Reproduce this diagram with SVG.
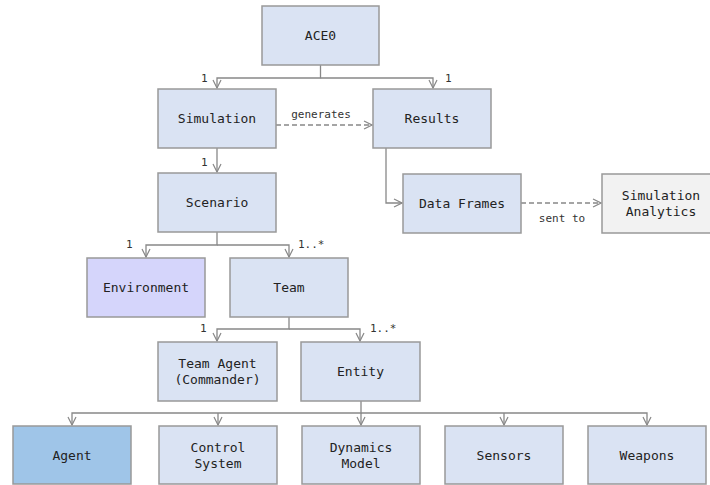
<svg xmlns="http://www.w3.org/2000/svg" width="710" height="485" viewBox="0 0 710 485">
<defs>
<marker id="arr" viewBox="0 0 10 10" refX="9" refY="5" markerWidth="10" markerHeight="10" markerUnits="userSpaceOnUse" orient="auto">
<path d="M1,1 L9,5 L1,9" fill="none" stroke="#888" stroke-width="1.2"/>
</marker>
<style>
.box{fill:#dae3f3;stroke:#999;stroke-width:1.5}
.env{fill:#d5d5fb}
.agt{fill:#9fc5e8}
.ana{fill:#f2f2f2}
.t{font-family:"DejaVu Sans Mono","Liberation Mono",monospace;font-size:13px;fill:#222;text-anchor:middle;dominant-baseline:central}
.l{font-family:"DejaVu Sans Mono","Liberation Mono",monospace;font-size:11px;fill:#333}
.c{fill:none;stroke:#888;stroke-width:1.3}
.d{stroke-dasharray:5,3}
</style>
</defs>
<rect width="710" height="485" fill="#fff"/>
<g id="connectors">
<path class="c" d="M320.5,65 V78 H217 V88" marker-end="url(#arr)"/>
<path class="c" d="M320.5,78 H433 V88" marker-end="url(#arr)"/>
<text class="l" x="201" y="82">1</text>
<text class="l" x="445" y="82">1</text>
<path class="c d" d="M276,125 H372" marker-end="url(#arr)"/>
<text class="l" x="321" y="118" text-anchor="middle">generates</text>
<path class="c" d="M217,148 V172" marker-end="url(#arr)"/>
<text class="l" x="201" y="166">1</text>
<path class="c" d="M386,148 V203 H402" marker-end="url(#arr)"/>
<path class="c d" d="M521,203 H601" marker-end="url(#arr)"/>
<text class="l" x="562" y="222" text-anchor="middle">sent to</text>
<path class="c" d="M217,232 V245 H146 V257" marker-end="url(#arr)"/>
<path class="c" d="M217,245 H289 V257" marker-end="url(#arr)"/>
<text class="l" x="126" y="248">1</text>
<text class="l" x="298" y="248">1..*</text>
<path class="c" d="M289,317 V329 H217 V341" marker-end="url(#arr)"/>
<path class="c" d="M289,329 H360 V341" marker-end="url(#arr)"/>
<text class="l" x="200" y="332">1</text>
<text class="l" x="370" y="332">1..*</text>
<path class="c" d="M361,401 V413 H72 V425" marker-end="url(#arr)"/>
<path class="c" d="M218,413 V425" marker-end="url(#arr)"/>
<path class="c" d="M361,413 V425" marker-end="url(#arr)"/>
<path class="c" d="M361,413 H647 V425" marker-end="url(#arr)"/>
<path class="c" d="M504,413 V425" marker-end="url(#arr)"/>
</g>
<g id="ace0"><rect class="box" x="262" y="6" width="117" height="59"/><text class="t" x="320.5" y="35.5">ACE0</text></g>
<g id="simulation"><rect class="box" x="158" y="89" width="118" height="59"/><text class="t" x="217" y="118.5">Simulation</text></g>
<g id="results"><rect class="box" x="373" y="89" width="118" height="59"/><text class="t" x="432" y="118.5">Results</text></g>
<g id="scenario"><rect class="box" x="158" y="173" width="118" height="59"/><text class="t" x="217" y="202.5">Scenario</text></g>
<g id="dataframes"><rect class="box" x="403" y="174" width="118" height="59"/><text class="t" x="462" y="203.5">Data Frames</text></g>
<g id="analytics"><rect class="box ana" x="602" y="174" width="118" height="59"/><text class="t" x="661" y="195">Simulation</text><text class="t" x="661" y="211">Analytics</text></g>
<g id="environment"><rect class="box env" x="87" y="258" width="118" height="59"/><text class="t" x="146" y="287.5">Environment</text></g>
<g id="team"><rect class="box" x="230" y="258" width="118" height="59"/><text class="t" x="289" y="287.5">Team</text></g>
<g id="teamagent"><rect class="box" x="158" y="342" width="119" height="59"/><text class="t" x="217.5" y="363">Team Agent</text><text class="t" x="217.5" y="379">(Commander)</text></g>
<g id="entity"><rect class="box" x="301" y="342" width="119" height="59"/><text class="t" x="360.5" y="371.5">Entity</text></g>
<g id="agent"><rect class="box agt" x="13" y="426" width="118" height="58"/><text class="t" x="72" y="455">Agent</text></g>
<g id="control"><rect class="box" x="159" y="426" width="118" height="58"/><text class="t" x="218" y="447">Control</text><text class="t" x="218" y="463">System</text></g>
<g id="dynamics"><rect class="box" x="302" y="426" width="118" height="58"/><text class="t" x="361" y="447">Dynamics</text><text class="t" x="361" y="463">Model</text></g>
<g id="sensors"><rect class="box" x="445" y="426" width="118" height="58"/><text class="t" x="504" y="455">Sensors</text></g>
<g id="weapons"><rect class="box" x="588" y="426" width="118" height="58"/><text class="t" x="647" y="455">Weapons</text></g>
</svg>
